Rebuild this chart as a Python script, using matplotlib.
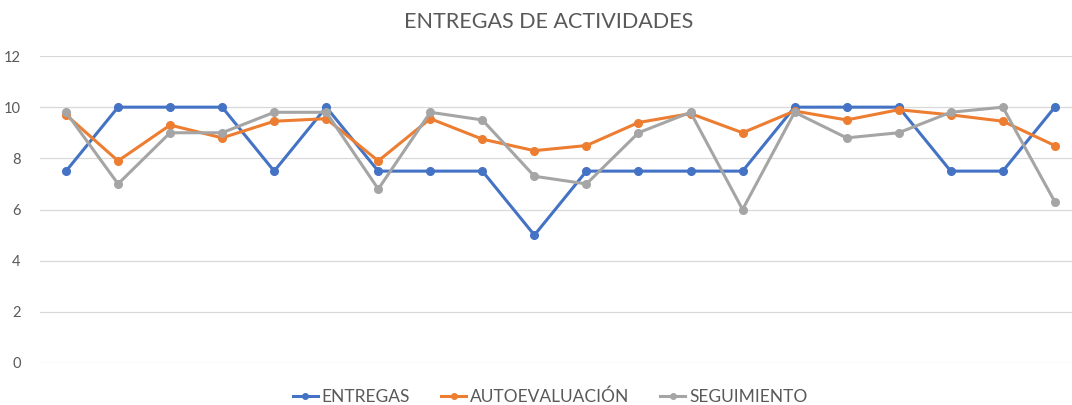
import matplotlib
matplotlib.use("Agg")
import matplotlib.pyplot as plt
from matplotlib.lines import Line2D

plt.rcParams['font.family'] = ['Lato', 'DejaVu Sans']

categories = list(range(1, 21))
entregas = [7.5, 10, 10, 10, 7.5, 10, 7.5, 7.5, 7.5, 5, 7.5, 7.5, 7.5, 7.5, 10, 10, 10, 7.5, 7.5, 10]
autoevaluacion = [9.7, 7.9, 9.3, 8.8, 9.45, 9.55, 7.9, 9.55, 8.75, 8.3, 8.5, 9.4, 9.75, 9.0, 9.85, 9.5, 9.9, 9.7, 9.45, 8.5]
seguimiento = [9.8, 7.0, 9.0, 9.0, 9.8, 9.8, 6.8, 9.8, 9.5, 7.3, 7.0, 9.0, 9.8, 6.0, 9.8, 8.8, 9.0, 9.8, 10.0, 6.3]
yticks = [0, 2, 4, 6, 8, 10, 12]

series = [("ENTREGAS", entregas, "#4472C4"),
          ("AUTOEVALUACIÓN", autoevaluacion, "#ED7D31"),
          ("SEGUIMIENTO", seguimiento, "#A5A5A5")]

fig = plt.figure(figsize=(10.72, 4.05), dpi=100)
ax = fig.add_axes([40/1072, 1-363/405, 1-40/1072, (363-56)/405])

x = list(range(len(categories)))
handles = []
for name, vals, col in series:
    ax.plot(x, vals, color=col, lw=2.2, marker='o', ms=5.5, label=name, zorder=3)
    handles.append(Line2D([], [], color=col, lw=2.2, marker='o', ms=4, label=name))

ax.set_ylim(0, 12)
ax.set_xlim(-0.5, 19.33)
ax.set_yticks(yticks)
ax.set_yticklabels([str(v) for v in yticks], color='#595959', fontsize=10.5)
ax.set_xticks([])
ax.tick_params(axis='y', length=0, pad=14)
ax.grid(axis='y', color='#D9D9D9', lw=0.9)
ax.set_axisbelow(True)
for s in ax.spines.values():
    s.set_visible(False)

fig.text(549/1072, 1-22/405, "ENTREGAS DE ACTIVIDADES", ha='center', va='center',
         fontsize=15.5, color='#595959')

leg = fig.legend(handles=handles, loc='center', bbox_to_anchor=(550/1072, 1-397/405), ncol=3,
                 frameon=False, fontsize=12.5, handlelength=1.45, handletextpad=0.2,
                 columnspacing=1.8, labelcolor='#595959')

fig.savefig("out.png", dpi=100)
